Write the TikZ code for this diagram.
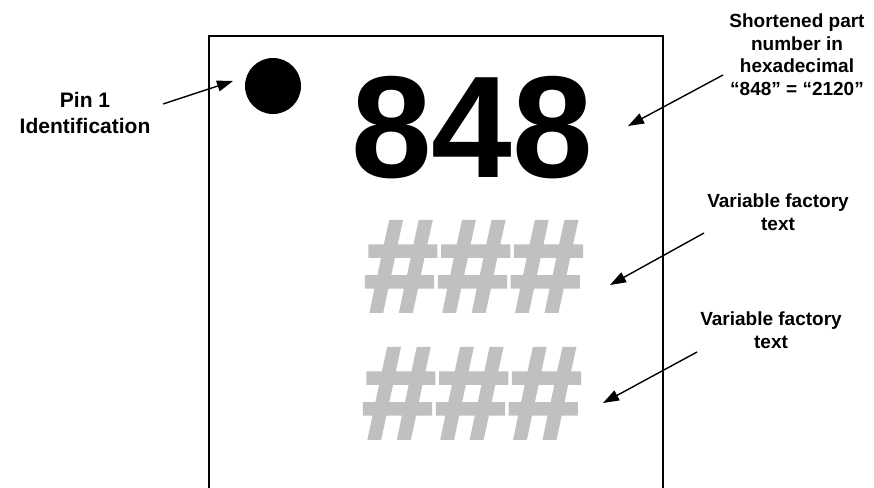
\documentclass[tikz,border=0pt]{standalone}
\usepackage{fontspec}
\setmainfont{Liberation Sans}
\newfontfamily\heavyfont{Liberation Sans Bold}[FakeBold=3]
\usetikzlibrary{arrows.meta}
\definecolor{hashGray}{RGB}{192,192,192}

\begin{document}
\begin{tikzpicture}[x=1pt, y=-1pt, every node/.style={font=\bfseries, inner sep=0pt},
  note/.style={align=center, anchor=north, font=\fontsize{19}{22.5}\selectfont\bfseries},
  hashes/.style={anchor=base, hashGray, font=\fontsize{131}{131}\selectfont\heavyfont},
  arr/.style={-{Triangle[length=16pt,width=11pt]}, line width=1.4pt}]
  \useasboundingbox (0,0) rectangle (874,487);
  % Package outline
  \draw[line width=1.8pt] (209,495) -- (209,36) -- (663,36) -- (663,495);
  \fill (273,86) circle (28);
  \node[anchor=base, font=\fontsize{145}{145}\selectfont\bfseries] (num) at (472,177) {848};
  \node[hashes] (var1) at (474,311) {\#\#\#};
  \node[hashes] (var2) at (472,438) {\#\#\#};
  % Labels
  \node[note, font=\fontsize{21}{26}\selectfont\bfseries] (pinlbl) at (85,92) {Pin 1\\Identification};
  \node[note] (numlbl) at (797,14) {Shortened part\\number in\\hexadecimal\\“848” = “2120”};
  \node[note] (var1lbl) at (778,194) {Variable factory\\text};
  \node[note] (var2lbl) at (771,312) {Variable factory\\text};
  % Arrows
  \coordinate (pinA) at (163,104);  \coordinate (pinB) at (233,81);
  \coordinate (numA) at (723,75);   \coordinate (numB) at (628,126);
  \coordinate (var1A) at (704,233); \coordinate (var1B) at (610,285);
  \coordinate (var2A) at (697,352); \coordinate (var2B) at (603,403);
  \draw[arr] (pinA) -- (pinB);
  \draw[arr] (numA) -- (numB);
  \draw[arr] (var1A) -- (var1B);
  \draw[arr] (var2A) -- (var2B);
\end{tikzpicture}
\end{document}
